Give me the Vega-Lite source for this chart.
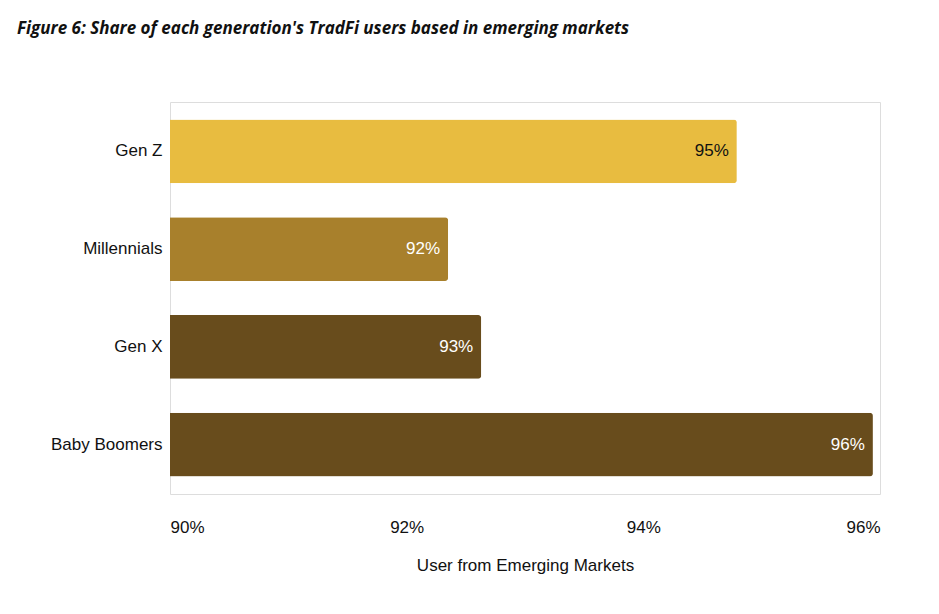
{
"$schema":"https://vega.github.io/schema/vega-lite/v6.json",
"width":710,"height":392,
"autosize":{"type":"none"},
"padding":{"left":170,"top":102,"right":59,"bottom":120},
"background":"white",
"title":{"text":"Figure 6: Share of each generation's TradFi users based in emerging markets","anchor":"start","frame":"group","dx":-153,"offset":64,"font":"Open Sans","fontSize":17,"fontStyle":"italic","fontWeight":"bold","color":"#111"},
"data":{"values":[
{"g":"Gen Z","v":94.79,"lab":"95%","c":"#E8BC40","tc":"#111"},
{"g":"Millennials","v":92.35,"lab":"92%","c":"#A8802C","tc":"white"},
{"g":"Gen X","v":92.63,"lab":"93%","c":"#684C1C","tc":"white"},
{"g":"Baby Boomers","v":95.94,"lab":"96%","c":"#684C1C","tc":"white"}
]},
"encoding":{
"y":{"field":"g","type":"nominal","sort":null,"scale":{"paddingInner":0.35,"paddingOuter":0.18},"axis":{"title":null,"domain":false,"ticks":false,"labelFontSize":17,"labelFont":"Liberation Sans","labelColor":"#111","labelPadding":8}},
"x":{"field":"v","type":"quantitative","scale":{"domain":[90,96],"zero":false,"clamp":true},"axis":{"values":[90,92,94,96],"labelExpr":"datum.value+'%'","grid":false,"domain":false,"ticks":false,"labelFontSize":17,"labelFont":"Liberation Sans","labelColor":"#111","labelPadding":25,"title":"User from Emerging Markets","titleFontSize":17,"titleFont":"Liberation Sans","titleFontWeight":"normal","titleColor":"#111","titlePadding":22}}
},
"layer":[
{"mark":{"type":"bar","cornerRadiusEnd":3},"encoding":{"color":{"field":"c","type":"nominal","scale":null}}},
{"mark":{"type":"text","align":"right","dx":-8,"fontSize":17,"font":"Liberation Sans"},"encoding":{"text":{"field":"lab"},"color":{"field":"tc","type":"nominal","scale":null}}}
]
}
